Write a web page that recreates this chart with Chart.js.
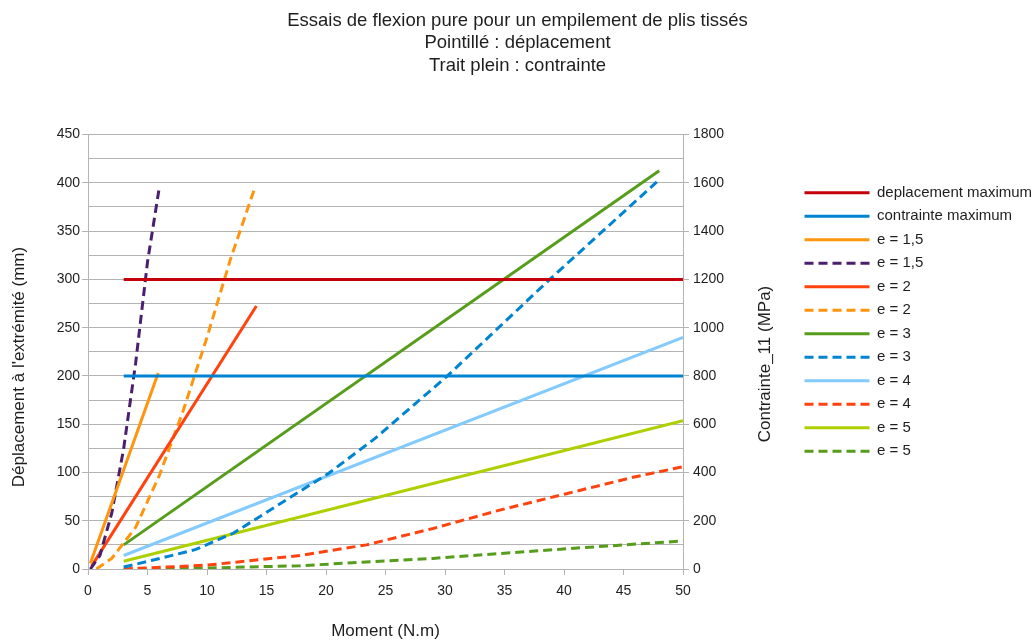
<!DOCTYPE html>
<html lang="fr">
<head>
<meta charset="UTF-8">
<title>Essais de flexion pure pour un empilement de plis tissés</title>
<script src="https://cdn.jsdelivr.net/npm/chart.js"></script>
<style>
    body { margin: 0; background: #fff; }
    #wrap { width: 1035px; height: 644px; }
</style>
</head>
<body>
<div id="wrap"><canvas id="chart" width="1035" height="644"></canvas></div>
<script>
    // Limites (axe des moments de 3 a 50 N.m)
    const limX = [3, 50];
    const deplMax = [300, 300];      // mm, axe gauche
    const contrMax = [800, 800];     // MPa, axe droit

    // Trait plein : contrainte (MPa)
    const c15x = [0.2, 5.9],   c15y = [24, 812];
    const c2x  = [0.3, 14.15], c2y  = [12, 1090];
    const c3x  = [3, 48],      c3y  = [100, 1650];
    const c4x  = [3, 50],      c4y  = [56, 960];
    const c5x  = [3, 50],      c5y  = [32, 614];

    // Pointille : deplacement (mm)
    const d15x = [0.2, 1, 2, 3, 4, 5, 5.95];
    const d15y = [0, 14, 58, 125, 213, 318, 392];
    const d2x  = [0.7, 2, 4, 6, 8, 10, 12, 14.05];
    const d2y  = [0, 11, 43, 97, 164, 240, 322, 396];
    const d3x  = [3, 5.4, 9, 12.2, 20.2, 24.1, 30.2, 38.8, 47.8];
    const d3y  = [2, 9, 20, 37, 99, 135, 200, 300, 401];
    const d4x  = [3, 10, 17.8, 23.4, 29, 34.6, 40.2, 45.8, 50];
    const d4y  = [0, 4, 14, 25, 42, 61, 78, 95, 106];
    const d5x  = [3, 10, 17.8, 29, 40.2, 50];
    const d5y  = [0, 1, 3.4, 11, 21, 29];

    const titleLines = ['Essais de flexion pure pour un empilement de plis tissés', 'Pointillé : déplacement', 'Trait plein : contrainte'];
    const leftTitle = "Déplacement à l'extrémité (mm)";
    const rightTitle = 'Contrainte_11 (MPa)';

    const FONT = '"Liberation Sans", Arial, sans-serif';
    const TEXT = '#1e1e1e';
    const GRID = '#b3b3b3';
    const DASH = [9, 5];

    Chart.defaults.font.family = FONT;

    function pts(xs, ys) {
        return xs.map((x, i) => ({ x: x, y: ys[i] }));
    }
    function serie(label, xs, ys, color, axis, dashed) {
        return {
            label: label,
            data: pts(xs, ys),
            borderColor: color,
            backgroundColor: color,
            borderWidth: 3,
            borderDash: dashed ? DASH : [],
            yAxisID: axis,
            pointRadius: 0,
            tension: 0
        };
    }

    // titres des axes verticaux, lus de bas en haut comme l'original
    const axisTitles = {
        id: 'axisTitles',
        afterDraw(chart) {
            const ctx = chart.ctx;
            const put = (txt, x, y) => {
                ctx.save();
                ctx.translate(x, y);
                ctx.rotate(-Math.PI / 2);
                ctx.font = '17px ' + FONT;
                ctx.fillStyle = TEXT;
                ctx.textAlign = 'center';
                ctx.textBaseline = 'middle';
                ctx.fillText(txt, 0, 0);
                ctx.restore();
            };
            put(leftTitle, chart.scales.y.left + 19, 367);
            put(rightTitle, chart.scales.y1.left + 82, 364);
        }
    };

    new Chart(document.getElementById('chart'), {
        type: 'line',
        data: {
            datasets: [
                serie('deplacement maximum', limX, deplMax, '#c5000b', 'y', false),
                serie('contrainte maximum', limX, contrMax, '#0084d1', 'y1', false),
                serie('e = 1,5', c15x, c15y, '#ff950e', 'y1', false),
                serie('e = 1,5', d15x, d15y, '#4b1f6f', 'y', true),
                serie('e = 2', c2x, c2y, '#ff420e', 'y1', false),
                serie('e = 2', d2x, d2y, '#ff950e', 'y', true),
                serie('e = 3', c3x, c3y, '#579d1c', 'y1', false),
                serie('e = 3', d3x, d3y, '#0084d1', 'y', true),
                serie('e = 4', c4x, c4y, '#83caff', 'y1', false),
                serie('e = 4', d4x, d4y, '#ff420e', 'y', true),
                serie('e = 5', c5x, c5y, '#aecf00', 'y1', false),
                serie('e = 5', d5x, d5y, '#579d1c', 'y', true)
            ]
        },
        options: {
            responsive: false,
            animation: false,
            layout: { padding: 0 },
            plugins: {
                title: {
                    display: true,
                    text: titleLines,
                    color: TEXT,
                    font: { size: 18.5, weight: 'normal', lineHeight: 1.2 },
                    padding: { top: 10, bottom: 58 }
                },
                legend: {
                    position: 'right',
                    align: 'center',
                    maxWidth: 239,
                    labels: {
                        usePointStyle: true,
                        pointStyle: 'line',
                        pointStyleWidth: 65,
                        padding: 8.5,
                        color: TEXT,
                        font: { size: 15 },
                        generateLabels: chart => Chart.defaults.plugins.legend.labels.generateLabels(chart).map(l => {
                            l.lineDash = chart.data.datasets[l.datasetIndex].borderDash;
                            l.lineWidth = 3;
                            return l;
                        })
                    }
                },
                tooltip: { enabled: false }
            },
            scales: {
                x: {
                    type: 'linear',
                    min: 0,
                    max: 50,
                    ticks: { stepSize: 5, color: TEXT, font: { size: 14 }, padding: 8, maxRotation: 0 },
                    grid: { drawOnChartArea: false, color: GRID, tickLength: 6 },
                    border: { color: GRID },
                    title: { display: true, text: 'Moment (N.m)', color: TEXT, font: { size: 17 }, padding: { top: 0, bottom: 2 } },
                    afterFit: s => { s.height = 75; }
                },
                y: {
                    position: 'left',
                    min: 0,
                    max: 450,
                    ticks: {
                        stepSize: 25,
                        color: TEXT,
                        font: { size: 14 },
                        padding: 2,
                        callback: v => (v % 50 === 0 ? String(v) : '')
                    },
                    grid: {
                        color: GRID,
                        tickLength: 6,
                        tickColor: c => (c.tick && c.tick.value % 50 === 0 ? GRID : 'rgba(0,0,0,0)')
                    },
                    border: { color: GRID },
                    afterFit: s => { s.width = 88; }
                },
                y1: {
                    position: 'right',
                    min: 0,
                    max: 1800,
                    ticks: { stepSize: 200, color: TEXT, font: { size: 14 }, padding: 4, callback: v => String(v) },
                    grid: { drawOnChartArea: false, color: GRID, tickLength: 6 },
                    border: { color: GRID },
                    afterFit: s => { s.width = 113; }
                }
            }
        },
        plugins: [axisTitles]
    });
</script>
</body>
</html>
